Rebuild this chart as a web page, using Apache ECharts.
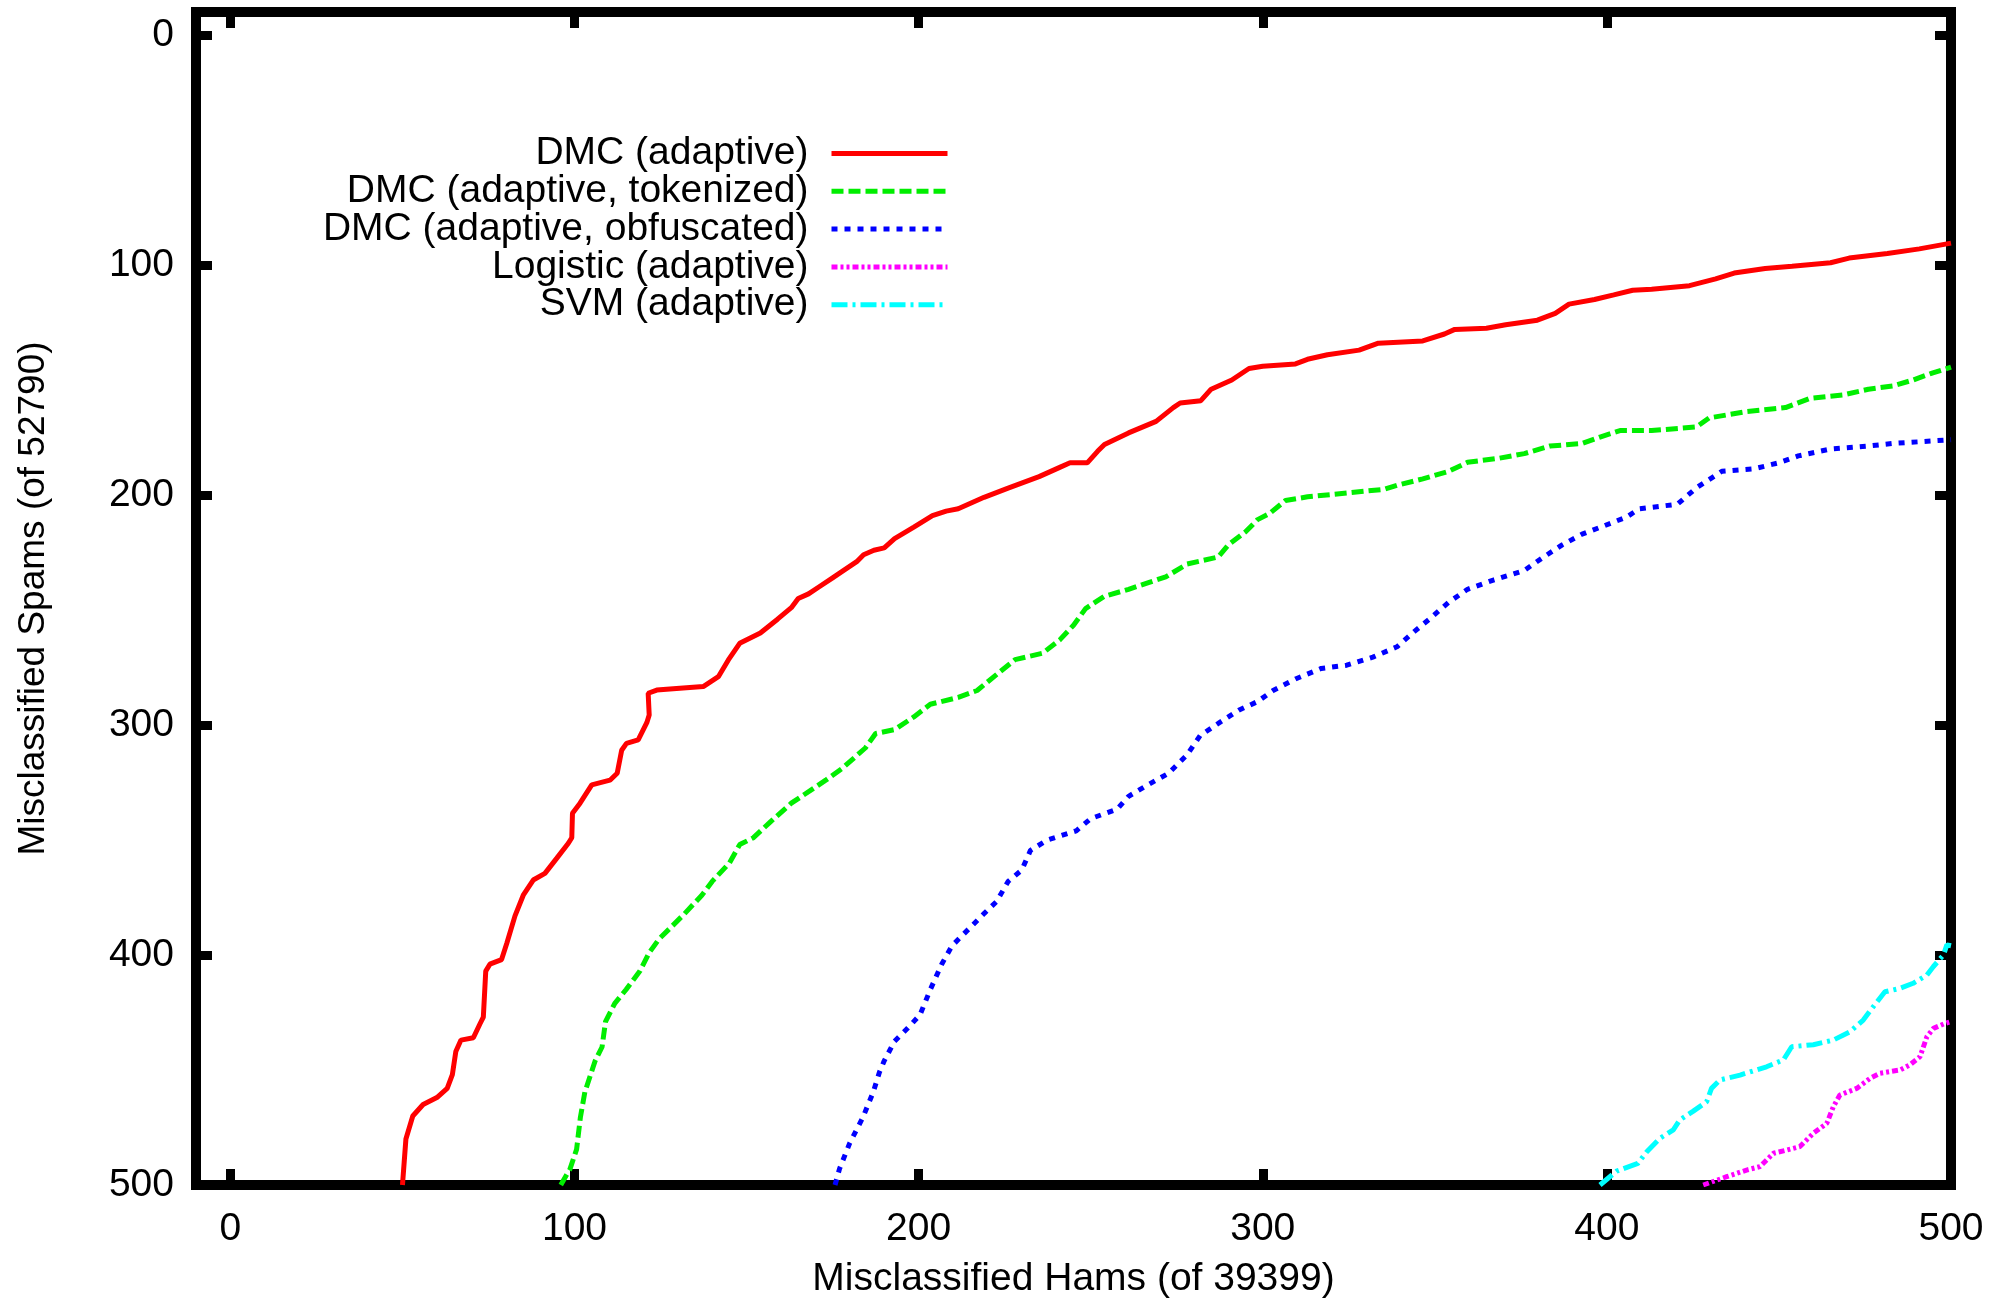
<!DOCTYPE html>
<html>
<head>
<meta charset="utf-8">
<script src="https://cdn.jsdelivr.net/npm/echarts@6/dist/echarts.min.js"></script>
<style>
html,body{margin:0;padding:0;background:#fff;}
#chart{width:1992px;height:1299px;}
</style>
</head>
<body>
<div id="chart"></div>
<script>
const xTicks = [0, 100, 200, 300, 400, 500];
const yTicks = [0, 100, 200, 300, 400, 500];
const xTitle = 'Misclassified Hams (of 39399)';
const yTitle = 'Misclassified Spams (of 52790)';
const seriesNames = ['DMC (adaptive)', 'DMC (adaptive, tokenized)', 'DMC (adaptive, obfuscated)', 'Logistic (adaptive)', 'SVM (adaptive)'];

const dmcAdaptive = [[50,500],[50.5,490],[51,480],[53,470],[56,465],[60,462],[63,458],[64.5,452],[65.5,442],[67,437],[70.6,436],[72.5,430],[73.5,427],[74.2,407],[75.4,404],[78.8,402],[80.3,395],[82.7,383],[85.1,374],[88,367.4],[91.4,364.5],[94.8,358],[98.2,351.4],[99.2,349],[99.4,338.4],[101.6,334],[105,326],[110.3,324],[112.4,321],[113.7,311],[115.1,308],[118.5,306.5],[121,299],[121.7,295.7],[121.4,286.2],[123.9,284.8],[130.6,284],[137.4,283.3],[141.8,279],[144.7,271.7],[148,264.5],[154,260],[159,254],[163,249],[165,245],[168,243],[171,240],[175,236],[178,233],[182,229],[184,226],[187,224],[190,223],[193,219],[198.6,214],[204,209],[208,207],[211.5,206],[219,201],[226,197],[235,192],[241,188],[244,186],[249,186],[252,181],[254,178],[261,173],[269,168],[274,162],[276,160],[282,159],[285,154],[291,150],[296,145],[300,144],[309.5,143],[313,141],[318.8,139],[328,137],[333.6,134],[346.5,133],[352.8,130],[355.8,128],[365,127.5],[370.6,126],[379.8,124],[385,121],[389,117],[396.4,115],[402,113],[407.5,111],[413,110.5],[424,109],[431.6,106],[437,103.5],[446,101.5],[453.8,100.5],[465,99],[470.4,97],[481.5,95],[490.8,93],[500,90.5]];

const dmcTokenized = [[96,500],[98.7,493],[100.6,484.5],[101.7,470.6],[103,459.6],[106,446],[108,440],[109,429],[111.7,421],[115,415],[119,407],[121.7,399],[124.6,393],[128,388],[132,382],[137,374],[140,368],[145,360],[148,352],[152,349],[157,342],[163,334],[167,330],[173,324],[178,318.6],[184.5,310],[187.5,303.7],[193,302],[198.6,296.5],[203.4,291],[211.5,288],[217,285],[222.7,278],[228,271.6],[236,268.8],[241,263],[245,256.6],[248.5,249.4],[254,244],[261,241],[267,238],[271.8,235.6],[278,230],[287,227],[290,221.7],[295,216],[298.5,210.7],[302,208],[306.6,202.4],[313,200.8],[320.6,199.7],[335.4,197.5],[339,195.8],[346.5,193],[354,189.7],[359.5,185.8],[368.7,184],[376,182],[383.5,178.7],[392.8,177.6],[398,174.8],[403.8,172],[413,172],[426,170.4],[429.7,166.5],[440.8,163.7],[451.9,162],[459,158],[468.6,156.5],[476,154],[483,152.6],[489,150],[494.5,147],[500,144.4]];

const dmcObfuscated = [[175.7,500],[177,493],[180,481.7],[183.8,470.6],[186.8,459.6],[188.6,451],[190,446],[193,437.5],[196.7,432],[200.4,426],[203.4,415],[206.7,404],[209.7,396],[215,388],[219,382],[222.7,376.7],[226,368],[230,363],[232.5,354.5],[237.4,350],[245.8,346],[250,340.7],[257.7,336.6],[261,331],[267,325.7],[272.6,321],[278,313],[281.8,304.6],[287.4,299],[293,293.6],[298.5,289.8],[303,285],[309.5,280],[317,275.4],[324.4,274],[332,270.5],[339,266],[344,259.4],[348.4,254],[354,246.7],[359.5,241],[367,237],[376,232.8],[381.6,227],[387,221.7],[392.8,217],[399,213.5],[405.7,209.6],[409.4,206],[420.5,204],[426,196.9],[433.4,189.7],[442.7,188.6],[450,186],[455.6,183],[465,180],[476,178.7],[483,177.6],[494.5,176.5],[500,176]];

const logisticAdaptive = [[428,500],[434.8,496.4],[440.6,493.5],[444.5,492],[448.4,486.2],[452.3,484.8],[456.1,483.3],[460,477.5],[463.9,473.2],[465.8,466],[467.7,460.9],[472.6,458],[476.5,453.6],[479.4,451.4],[485.2,450],[488,447.8],[491,444.2],[493,435.5],[494.9,431.9],[498.3,429.7],[500,429]];

const svmAdaptive = [[398,500],[402.8,494],[409,490.6],[411.6,485.5],[415.4,479.7],[419.3,476],[421.2,471.7],[425,468],[429,463.8],[430.4,458],[432.9,454.3],[438.7,452.2],[446.4,448.6],[451.3,445.6],[453.7,439.9],[460,439],[465.8,437],[470.7,433.3],[474.5,428.3],[477.4,422.5],[480.8,416],[485.2,414.5],[489,412.3],[493,408.7],[494.9,405],[497.8,400],[498.8,395.6],[500,396]];

const FONT = '"Liberation Sans", Arial, Helvetica, sans-serif';
const FS = 39;
const chart = echarts.init(document.getElementById('chart'), null, {renderer: 'canvas'});

function tickAxis(values, extra) {
  return Object.assign({
    type: 'value', min: -10, max: 500,
    axisLine: {show: false, onZero: false},
    splitLine: {show: false},
    axisTick: {show: true, inside: true, length: 16, customValues: values, lineStyle: {color: '#000', width: 9}},
    axisLabel: {show: false}
  }, extra);
}

const option = {
  backgroundColor: '#fff',
  animation: false,
  grid: {left: 196, right: 41, top: 12, bottom: 114, outerBoundsMode: 'none', containLabel: false,
         show: true, borderColor: '#000', borderWidth: 10, backgroundColor: 'transparent'},
  legend: {
    orient: 'vertical', align: 'right', right: 1042, top: 134, padding: 0,
    itemWidth: 116, itemHeight: 20, itemGap: -1.2,
    data: seriesNames,
    textStyle: {fontSize: FS, fontFamily: FONT, color: '#000', lineHeight: 36.5, padding: [0, 18, 0, 0]},
    itemStyle: {opacity: 0},
    lineStyle: {width: 5}
  },
  xAxis: [
    tickAxis(xTicks, {
      position: 'bottom',
      axisLabel: {show: true, customValues: xTicks, fontSize: FS, fontFamily: FONT, color: '#000', margin: 25},
      name: xTitle, nameLocation: 'middle', nameGap: 75,
      nameTextStyle: {fontSize: FS, fontFamily: FONT, color: '#000'}
    }),
    tickAxis(xTicks, {position: 'top'})
  ],
  yAxis: [
    tickAxis(yTicks, {
      position: 'left', inverse: true,
      axisLabel: {show: true, customValues: yTicks, fontSize: FS, fontFamily: FONT, color: '#000', margin: 22, padding: [12, 0, 0, 0]},
      name: yTitle, nameLocation: 'middle', nameGap: 144,
      nameTextStyle: {fontSize: 37, fontFamily: FONT, color: '#000'}
    }),
    tickAxis(yTicks, {position: 'right', inverse: true})
  ],
  series: [
    {name: seriesNames[0], type: 'line', data: dmcAdaptive, symbol: 'none', color: '#ff0000',
     lineStyle: {color: '#ff0000', width: 5, type: 'solid'}},
    {name: seriesNames[1], type: 'line', data: dmcTokenized, symbol: 'none', color: '#00ee00',
     lineStyle: {color: '#00ee00', width: 5, type: [12, 5]}},
    {name: seriesNames[2], type: 'line', data: dmcObfuscated, symbol: 'none', color: '#0000ff',
     lineStyle: {color: '#0000ff', width: 5, type: [6, 7]}},
    {name: seriesNames[3], type: 'line', data: logisticAdaptive, symbol: 'none', color: '#ff00ff',
     lineStyle: {color: '#ff00ff', width: 5, type: [6, 3, 3, 3, 3, 3]}},
    {name: seriesNames[4], type: 'line', data: svmAdaptive, symbol: 'none', color: '#00ffff',
     lineStyle: {color: '#00ffff', width: 5, type: [16, 5, 3, 5]}}
  ]
};
chart.setOption(option);
</script>
</body>
</html>
